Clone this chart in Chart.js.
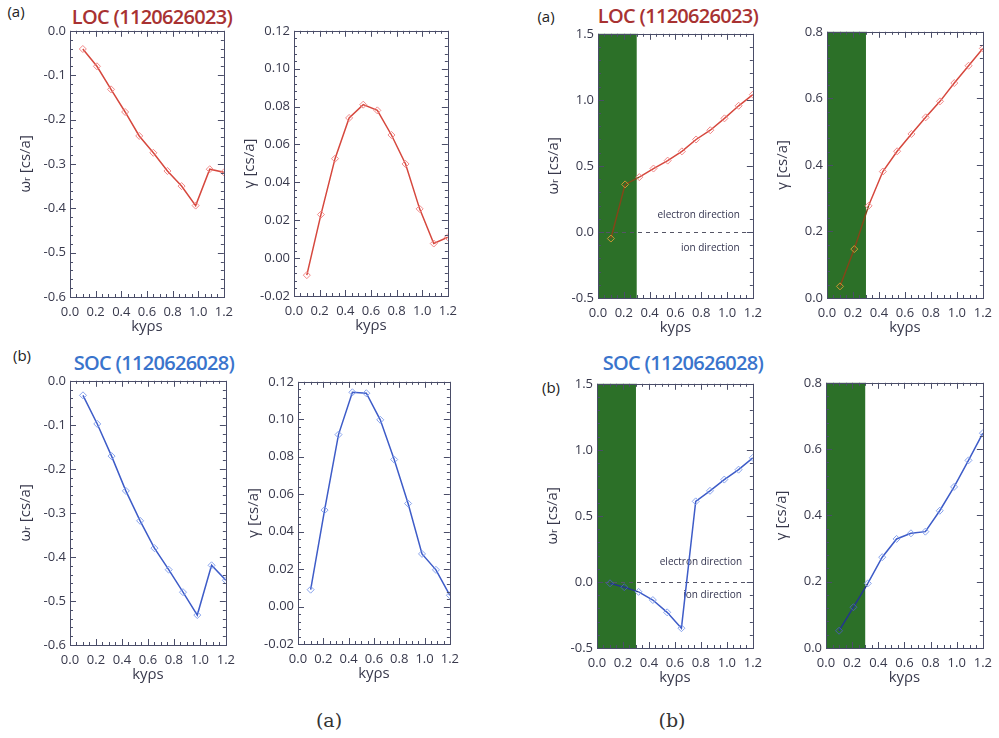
<!DOCTYPE html>
<html>
<head>
<meta charset="utf-8">
<script src="https://cdn.jsdelivr.net/npm/chart.js@4"></script>
<style>
body { margin: 0; background: #fff; width: 999px; height: 738px; position: relative; overflow: hidden; font-family: 'Open Sans', 'DejaVu Sans', sans-serif; }
canvas { position: absolute; }
.t { position: absolute; white-space: nowrap; transform: translate(-50%, -50%); line-height: 1; }
.title { font-size: 20px; font-weight: 600; letter-spacing: -0.7px; }
.tag { font-size: 15px; color: #222; }
.cap { font-family: 'DejaVu Serif', 'Liberation Serif', serif; font-size: 19px; color: #333; }
</style>
</head>
<body>

<div class="t tag" style="left:16px;top:11px">(a)</div>
<div class="t title" style="left:152px;top:17px;color:#a83232">LOC (1120626023)</div>
<div class="t tag" style="left:546px;top:16px">(a)</div>
<div class="t title" style="left:678px;top:16px;color:#a83232">LOC (1120626023)</div>
<div class="t tag" style="left:22px;top:355px">(b)</div>
<div class="t title" style="left:154px;top:363px;color:#3a74cc">SOC (1120626028)</div>
<div class="t tag" style="left:551px;top:387px">(b)</div>
<div class="t title" style="left:683px;top:363px;color:#3a74cc">SOC (1120626028)</div>
<div class="t cap" style="left:329px;top:720px">(a)</div>
<div class="t cap" style="left:672px;top:720px">(b)</div>

<canvas id="c1"></canvas>
<canvas id="c2"></canvas>
<canvas id="c3"></canvas>
<canvas id="c4"></canvas>
<canvas id="c5"></canvas>
<canvas id="c6"></canvas>
<canvas id="c7"></canvas>
<canvas id="c8"></canvas>

<script>
// wavenumber grid (k_y rho_s)
const ky = [0.10, 0.21, 0.32, 0.43, 0.54, 0.65, 0.76, 0.87, 0.98, 1.09, 1.20]

// (a) ion scale runs
const locOmegaA = [-0.041, -0.080, -0.132, -0.183, -0.237, -0.275, -0.316, -0.350, -0.394, -0.312, -0.319]
const locGammaA = [-0.009, 0.023, 0.0525, 0.074, 0.081, 0.078, 0.065, 0.0497, 0.026, 0.0077, 0.011]
const socOmegaA = [-0.033, -0.098, -0.171, -0.250, -0.318, -0.380, -0.429, -0.480, -0.532, -0.419, -0.453]
const socGammaA = [0.009, 0.0515, 0.0918, 0.1144, 0.1139, 0.0997, 0.0785, 0.055, 0.0281, 0.0196, 0.006]

// (b) electron scale runs
const locOmegaB = [-0.05, 0.36, 0.415, 0.48, 0.54, 0.61, 0.70, 0.77, 0.86, 0.955, 1.04]
const locGammaB = [0.035, 0.147, 0.277, 0.38, 0.441, 0.493, 0.543, 0.591, 0.646, 0.698, 0.75]
const socOmegaB = [-0.01, -0.04, -0.075, -0.137, -0.23, -0.35, 0.61, 0.69, 0.775, 0.85, 0.94]
const socGammaB = [0.052, 0.123, 0.195, 0.274, 0.329, 0.346, 0.351, 0.414, 0.486, 0.566, 0.648]

const bandEnd = 0.3
const omegaTitle = 'ω\u1D63 [cs/a]'
const gammaTitle = 'γ [cs/a]'
const xTitle = 'kyρs'

const red = {line: 'rgb(214,72,62)', pt: 'rgba(240,125,125,0.9)', lineIn: 'rgb(130,70,25)', ptIn: 'rgb(205,150,50)'}
const blue = {line: 'rgb(62,92,200)', pt: 'rgba(125,155,235,0.9)', lineIn: 'rgb(35,55,140)', ptIn: 'rgb(70,95,170)'}
const ink = '#38394c'
const font = "'Open Sans', 'DejaVu Sans', sans-serif"

// draws shaded band, zero line, notes, box and inward ticks
const frame = {
    id: 'frame',
    beforeDatasetsDraw(chart, args, o) {
        const {ctx, chartArea: a, scales: {x, y}} = chart
        ctx.save()
        if (o.band) {
            ctx.fillStyle = 'rgb(44,112,40)'
            ctx.fillRect(a.left, a.top, x.getPixelForValue(bandEnd) - a.left, a.bottom - a.top)
        }
        if (o.zero) {
            ctx.strokeStyle = '#556'
            ctx.lineWidth = 1
            ctx.setLineDash([4, 4])
            const y0 = Math.round(y.getPixelForValue(0)) + 0.5
            ctx.beginPath()
            ctx.moveTo(a.left, y0)
            ctx.lineTo(a.right, y0)
            ctx.stroke()
            ctx.setLineDash([])
        }
        if (o.notes) {
            ctx.fillStyle = '#33344f'
            ctx.font = '10px ' + font
            ctx.textAlign = 'center'
            ctx.textBaseline = 'middle'
            o.notes.forEach(n => ctx.fillText(n.text, x.getPixelForValue(n.x), y.getPixelForValue(n.y)))
        }
        ctx.restore()
    },
    afterDraw(chart, args, o) {
        const {ctx, chartArea: a, scales: {x, y}} = chart
        ctx.save()
        ctx.strokeStyle = '#4a4d68'
        ctx.lineWidth = 1
        ctx.strokeRect(Math.round(a.left) + 0.5, Math.round(a.top) + 0.5, Math.round(a.right - a.left), Math.round(a.bottom - a.top))
        ctx.beginPath()
        const xs = o.xStep / 4
        for (let v = x.min; v <= x.max + 1e-9; v += xs) {
            const major = Math.abs(v / o.xStep - Math.round(v / o.xStep)) < 1e-6
            const len = major ? 6 : 3
            const px = Math.round(x.getPixelForValue(v)) + 0.5
            ctx.moveTo(px, a.bottom); ctx.lineTo(px, a.bottom - len)
            ctx.moveTo(px, a.top); ctx.lineTo(px, a.top + len)
        }
        const ys = o.yStep / 5
        for (let v = y.min; v <= y.max + 1e-9; v += ys) {
            const major = Math.abs((v - y.min) / o.yStep - Math.round((v - y.min) / o.yStep)) < 1e-6
            const len = major ? 6 : 3
            const py = Math.round(y.getPixelForValue(v)) + 0.5
            ctx.moveTo(a.left, py); ctx.lineTo(a.left + len, py)
            ctx.moveTo(a.right, py); ctx.lineTo(a.right - len, py)
        }
        ctx.stroke()
        ctx.restore()
    }
}

const panels = [
    {id: 'c1', vals: locOmegaA, col: red, yMin: -0.6, yMax: 0, yStep: 0.1, dec: 1, yTitle: omegaTitle, box: [70, 29, 228, 297]},
    {id: 'c2', vals: locGammaA, col: red, yMin: -0.02, yMax: 0.12, yStep: 0.02, dec: 2, yTitle: gammaTitle, box: [294, 29, 452, 296]},
    {id: 'c3', vals: locOmegaB, col: red, yMin: -0.5, yMax: 1.5, yStep: 0.5, dec: 1, yTitle: omegaTitle, box: [598, 32, 757, 298],
        band: true, zero: true, notes: [{text: 'electron direction', x: 0.78, y: 0.13}, {text: 'ion direction', x: 0.87, y: -0.12}]},
    {id: 'c4', vals: locGammaB, col: red, yMin: 0, yMax: 0.8, yStep: 0.2, dec: 1, yTitle: gammaTitle, box: [827, 30, 987, 298], band: true},
    {id: 'c5', vals: socOmegaA, col: blue, yMin: -0.6, yMax: 0, yStep: 0.1, dec: 1, yTitle: omegaTitle, box: [70, 379, 230, 645]},
    {id: 'c6', vals: socGammaA, col: blue, yMin: -0.02, yMax: 0.12, yStep: 0.02, dec: 2, yTitle: gammaTitle, box: [298, 380, 454, 644]},
    {id: 'c7', vals: socOmegaB, col: blue, yMin: -0.5, yMax: 1.5, yStep: 0.5, dec: 1, yTitle: omegaTitle, box: [597, 382, 757, 648],
        band: true, zero: true, notes: [{text: 'electron direction', x: 0.8, y: 0.15}, {text: 'ion direction', x: 0.89, y: -0.1}]},
    {id: 'c8', vals: socGammaB, col: blue, yMin: 0, yMax: 0.8, yStep: 0.2, dec: 1, yTitle: gammaTitle, box: [826, 381, 987, 648], band: true}
]

const YW = 60, XH = 45, PT = 10, PR = 12

panels.forEach(p => {
    const [l, t, r, b] = p.box
    const cv = document.getElementById(p.id)
    cv.width = (r - l) + YW + PR
    cv.height = (b - t) + PT + XH
    cv.style.left = (l - YW) + 'px'
    cv.style.top = (t - PT) + 'px'
    const inBand = v => p.band && v < bandEnd - 1e-9
    const fmt = d => v => (Math.abs(v) < 1e-9 ? 0 : Number(v)).toFixed(d)

    new Chart(cv, {
        type: 'line',
        data: {
            datasets: [{
                data: ky.map((x, i) => ({x: x, y: p.vals[i]})),
                borderColor: p.col.line,
                borderWidth: 1.5,
                tension: 0,
                pointStyle: 'rectRot',
                pointRadius: 3.5,
                pointBorderWidth: 1,
                pointBackgroundColor: 'rgba(0,0,0,0)',
                pointBorderColor: c => (c.parsed && inBand(c.parsed.x)) ? p.col.ptIn : p.col.pt,
                segment: {
                    borderColor: c => inBand(c.p0.parsed.x) ? p.col.lineIn : undefined
                }
            }]
        },
        options: {
            responsive: false,
            animation: false,
            layout: {padding: {top: PT, right: PR, left: 0, bottom: 0}},
            plugins: {
                legend: {display: false},
                tooltip: {enabled: false},
                frame: {band: p.band, zero: p.zero, notes: p.notes, xStep: 0.2, yStep: p.yStep}
            },
            scales: {
                x: {
                    type: 'linear',
                    min: 0, max: 1.2,
                    grid: {display: false, drawTicks: false},
                    border: {display: false},
                    afterFit: s => { s.height = XH },
                    ticks: {
                        stepSize: 0.2, autoSkip: false, maxRotation: 0, padding: 7,
                        color: ink, font: {family: font, size: 13},
                        callback: fmt(1)
                    },
                    title: {display: true, text: xTitle, color: ink, font: {family: font, size: 15}, padding: {top: 0, bottom: 6}}
                },
                y: {
                    min: p.yMin, max: p.yMax,
                    grid: {display: false, drawTicks: false},
                    border: {display: false},
                    afterFit: s => { s.width = YW },
                    ticks: {
                        stepSize: p.yStep, autoSkip: false, padding: 4,
                        color: ink, font: {family: font, size: 13},
                        callback: fmt(p.dec)
                    },
                    title: {display: true, text: p.yTitle, color: ink, font: {family: font, size: 15}, padding: {top: 7, bottom: 0}}
                }
            }
        },
        plugins: [frame]
    })
})
</script>
</body>
</html>
